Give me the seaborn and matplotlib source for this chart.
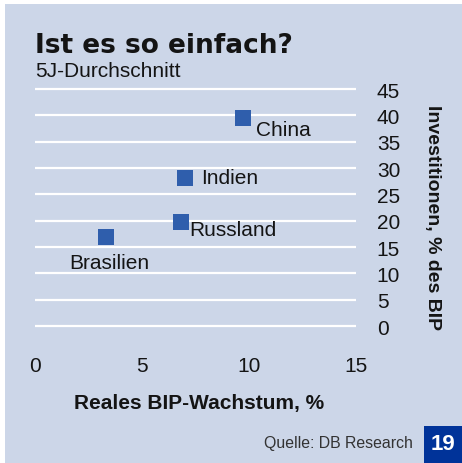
import pandas as pd
import matplotlib.pyplot as plt
import seaborn as sns
from matplotlib.patches import Rectangle

# chart values
countries = ['China', 'Indien', 'Russland', 'Brasilien']
growth = [9.7, 7.0, 6.8, 3.3]          # Reales BIP-Wachstum, %
investment = [39.5, 28.1, 19.8, 16.9]  # Investitionen, % des BIP
x_ticks = [0, 5, 10, 15]
y_ticks = [0, 5, 10, 15, 20, 25, 30, 35, 40, 45]

# label offsets from the markers, in points
label_offsets = [(9.5, -8), (11.5, 0.5), (6.3, -5.5), (-26.5, -18)]

bg = '#CCD6E8'
blue = '#2F5EAC'
dark = '#141414'

df = pd.DataFrame({'land': countries, 'wachstum': growth, 'invest': investment})

sns.set_style('white', {'axes.facecolor': bg})
plt.rcParams['font.family'] = ['Liberation Sans', 'DejaVu Sans']

fig = plt.figure(figsize=(4.62, 4.64), dpi=100)
fig.patch.set_facecolor('white')
# light blue panel with a thin white margin top and left
fig.patches.append(Rectangle((5 / 462, 0), 1, 1 - 5 / 464, transform=fig.transFigure,
                             facecolor=bg, edgecolor='none', zorder=-10))

ax = fig.add_axes([35 / 462, 1 - 332.3 / 464, 321 / 462, 247.5 / 464])
ax.set_facecolor(bg)

sns.scatterplot(data=df, x='wachstum', y='invest', marker='s', s=117,
                color=blue, linewidth=0, ax=ax, zorder=3)

for name, xv, yv, off in zip(countries, growth, investment, label_offsets):
    ax.annotate(name, (xv, yv), xytext=off, textcoords='offset points',
                ha='left', va='center', fontsize=15, color=dark)

ax.set_xlim(0, 15)
ax.set_ylim(-1, 46)
ax.set_xticks(x_ticks)
ax.set_yticks(y_ticks)
ax.grid(axis='y', color='white', linewidth=1.6)
ax.grid(axis='x', visible=False)
sns.despine(ax=ax, left=True, bottom=True)

ax.tick_params(axis='both', length=0, labelsize=15, colors=dark)
ax.tick_params(axis='y', labelleft=False, labelright=True, pad=15)
ax.tick_params(axis='x', pad=18)

ax.set_xlabel('Reales BIP-Wachstum, %', fontsize=15, fontweight='bold',
              color=dark, va='center')
ax.xaxis.set_label_coords(0.511, -0.286)
ax.yaxis.set_label_position('right')
ax.set_ylabel('Investitionen, % des BIP', fontsize=14, fontweight='bold',
              color=dark, rotation=-90, va='center')
ax.yaxis.set_label_coords(1.237, 0.464)

fig.text(35 / 462, 1 - 52.7 / 464, 'Ist es so einfach?', family='DejaVu Sans',
         fontsize=19, fontweight='bold', color=dark, va='baseline')
fig.text(35 / 462, 1 - 77 / 464, '5J-Durchschnitt', fontsize=15, color=dark,
         va='baseline')

fig.text(413 / 462, 1 - 444 / 464, 'Quelle: DB Research', fontsize=11.4,
         color='#333333', ha='right', va='center')
fig.patches.append(Rectangle((424 / 462, 0), 38 / 462, 37 / 464, transform=fig.transFigure,
                             facecolor='#003399', edgecolor='none', zorder=5))
fig.text(443 / 462, 1 - 445 / 464, '19', fontsize=16, fontweight='bold',
         color='white', ha='center', va='center', zorder=6)

fig.savefig('out.png', dpi=100, facecolor=fig.get_facecolor())
